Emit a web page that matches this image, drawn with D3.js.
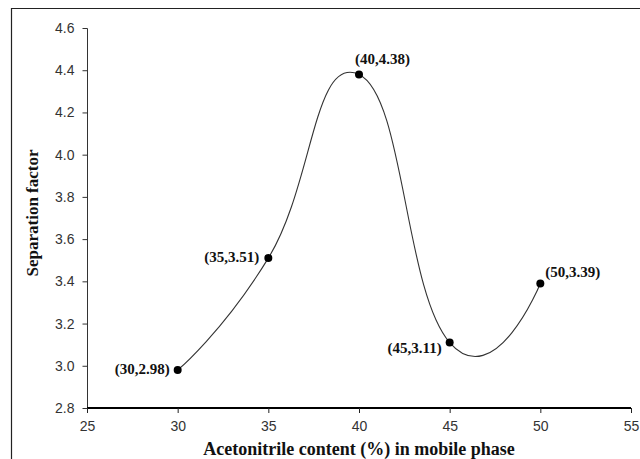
<!DOCTYPE html>
<html><head><meta charset="utf-8">
<script src="https://cdn.jsdelivr.net/npm/d3@7"></script>
<style>body{margin:0;background:#fff}svg{display:block}</style>
</head><body>
<script>
const xValues = [30, 35, 40, 45, 50];
const yValues = [2.98, 3.51, 4.38, 3.11, 3.39];
const pointLabels = ["(30,2.98)", "(35,3.51)", "(40,4.38)", "(45,3.11)", "(50,3.39)"];
const xTicks = [25, 30, 35, 40, 45, 50, 55];
const yTicks = [2.8, 3.0, 3.2, 3.4, 3.6, 3.8, 4.0, 4.2, 4.4, 4.6];
const xTitle = "Acetonitrile content (%) in mobile phase";
const yTitle = "Separation factor";

const W = 640, H = 459;
const svg = d3.select("body").append("svg").attr("width", W).attr("height", H);

// outer frame (left & top edges visible)
svg.append("path").attr("d", "M11.5,459 L11.5,8.5 L640,8.5")
  .attr("fill", "none").attr("stroke", "#222").attr("stroke-width", 1.2);

const x = d3.scaleLinear().domain([25, 55]).range([87, 631]);
const y = d3.scaleLinear().domain([2.8, 4.6]).range([408, 28]);

// y axis
const yAxis = svg.append("g").attr("transform", "translate(87.5,0)")
  .call(d3.axisLeft(y).tickValues(yTicks).tickFormat(d3.format(".1f")).tickSize(5).tickPadding(8));
yAxis.select(".domain").attr("stroke", "#333").attr("d", `M0,${y(4.6)+0.5}V${y(2.8)}`);
yAxis.selectAll(".tick line").attr("stroke", "#333");
yAxis.selectAll("text").attr("font-family", "Liberation Sans, Arial, sans-serif")
  .attr("font-size", 14).attr("fill", "#333");

// x axis
const xAxis = svg.append("g").attr("transform", "translate(0,408)")
  .call(d3.axisBottom(x).tickValues(xTicks).tickFormat(d3.format("d")).tickSize(5).tickPadding(8));
xAxis.select(".domain").attr("stroke", "#000").attr("stroke-width", 1.8).attr("d", `M${x(25)},0H${x(55)}`);
xAxis.selectAll(".tick line").attr("stroke", "#222");
xAxis.selectAll("text").attr("font-family", "Liberation Sans, Arial, sans-serif")
  .attr("font-size", 14).attr("fill", "#333");

// smoothed line
const pts = xValues.map((v, i) => [v, yValues[i]]);
const line = d3.line().x(d => x(d[0])).y(d => y(d[1])).curve(d3.curveCardinal.tension(-0.5));
svg.append("path").datum(pts).attr("d", line)
  .attr("fill", "none").attr("stroke", "#333").attr("stroke-width", 1.1);

// points
svg.selectAll("circle.pt").data(pts).enter().append("circle")
  .attr("cx", d => x(d[0])).attr("cy", d => y(d[1])).attr("r", 4).attr("fill", "#000");

// point labels
const labelPos = [
  {dx: -8, dy: 4, anchor: "end"},
  {dx: -9, dy: 4, anchor: "end"},
  {dx: -4, dy: -10, anchor: "start"},
  {dx: -8, dy: 10, anchor: "end"},
  {dx: 5, dy: -6, anchor: "start"}
];
svg.selectAll("text.pl").data(pts).enter().append("text")
  .attr("x", (d, i) => x(d[0]) + labelPos[i].dx)
  .attr("y", (d, i) => y(d[1]) + labelPos[i].dy)
  .attr("text-anchor", (d, i) => labelPos[i].anchor)
  .attr("font-family", "Liberation Serif, Times New Roman, serif")
  .attr("font-weight", "bold").attr("font-size", 15).attr("fill", "#111")
  .text((d, i) => pointLabels[i]);

// axis titles
svg.append("text").attr("x", 359).attr("y", 455).attr("text-anchor", "middle")
  .attr("font-family", "Liberation Serif, Times New Roman, serif")
  .attr("font-weight", "bold").attr("font-size", 18).attr("fill", "#111").text(xTitle);
svg.append("text").attr("transform", "translate(38,213) rotate(-90)").attr("text-anchor", "middle")
  .attr("font-family", "Liberation Serif, Times New Roman, serif")
  .attr("font-weight", "bold").attr("font-size", 17).attr("fill", "#111").text(yTitle);
</script>
</body></html>
